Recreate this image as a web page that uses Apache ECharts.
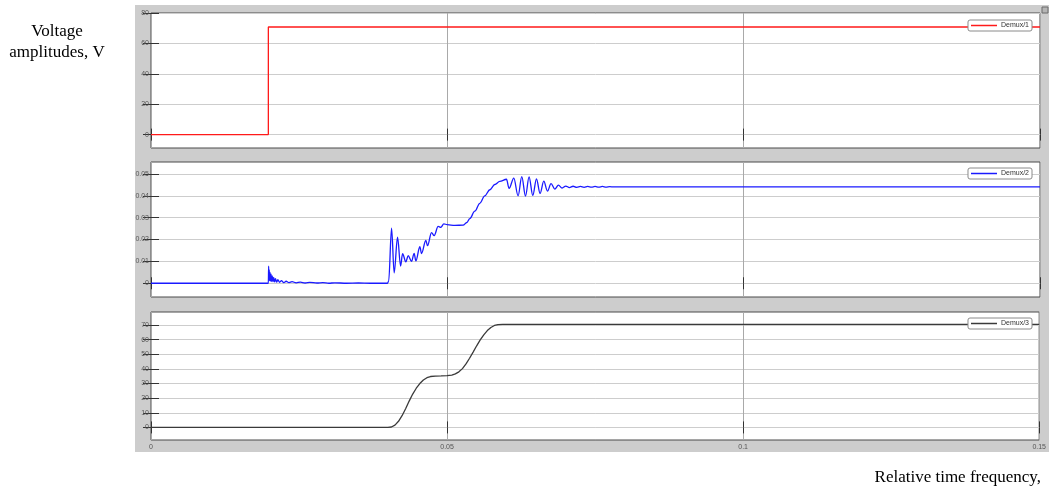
<!DOCTYPE html>
<html>
<head>
<meta charset="utf-8">
<title>Demux scope</title>
<script src="https://cdn.jsdelivr.net/npm/echarts@6/dist/echarts.min.js"></script>
<style>
  html, body { margin: 0; padding: 0; background: #ffffff; }
  #chart { width: 1049px; height: 490px; }
</style>
</head>
<body>
<div id="chart"></div>
<script>
// Time axis ticks (s)
const timeTicks = [0, 0.05, 0.1, 0.15];

// Y tick values per scope panel
const demux1Ticks = [0, 20, 40, 60, 80];
const demux2Ticks = [0, 0.01, 0.02, 0.03, 0.04, 0.05];
const demux3Ticks = [0, 10, 20, 30, 40, 50, 60, 70];

// Panel value ranges
const demux1Range = [-8.8, 80];
const demux2Range = [-0.0063, 0.0555];
const demux3Range = [-8.6, 78.9];

// Demux/1 : step amplitude
const demux1 = [
  [0, 0], [0.0198, 0], [0.0198, 70.8], [0.15, 70.8]
];

// Demux/2 : transient response
const demux2 = [
  [0, 0], [0.0198, 0], [0.01985, 0.0078], [0.0199, 0.0015], [0.01995, 0.0062],
  [0.0200, 0.0012], [0.02008, 0.0050], [0.02016, 0.0010], [0.02025, 0.0042],
  [0.02035, 0.0008], [0.02045, 0.0034], [0.02058, 0.0007], [0.0207, 0.0027],
  [0.02085, 0.0006], [0.0210, 0.0021], [0.0212, 0.0005], [0.0214, 0.0016],
  [0.0217, 0.0004], [0.0220, 0.0012], [0.0224, 0.0003], [0.0228, 0.0009],
  [0.0233, 0.0003], [0.0238, 0.0007], [0.0245, 0.0002], [0.0252, 0.0005],
  [0.0260, 0.0001], [0.0268, 0.0004], [0.0280, 0.0001], [0.0290, 0.0003],
  [0.0300, 0.0000], [0.0310, 0.0002], [0.0330, 0.0000], [0.0350, 0.0001],
  [0.0370, 0.0000], [0.0399, 0.0000],
  [0.0401, 0.0010], [0.04059, 0.0252], [0.04103, 0.0047], [0.0416, 0.0211],
  [0.04211, 0.0079], [0.04245, 0.0135], [0.0430, 0.0098], [0.04339, 0.0126],
  [0.04396, 0.0100], [0.0444, 0.0137], [0.04469, 0.0102], [0.04536, 0.0167],
  [0.04565, 0.0136], [0.04637, 0.0196], [0.04666, 0.0172], [0.04733, 0.0232],
  [0.04778, 0.0218], [0.04845, 0.0260], [0.0489, 0.0256], [0.04941, 0.0272],
  [0.04997, 0.0268], [0.05126, 0.0265], [0.05266, 0.0266], [0.05329, 0.0278],
  [0.05379, 0.0296], [0.05464, 0.0330], [0.05548, 0.0366], [0.05632, 0.0400],
  [0.05717, 0.0428], [0.05801, 0.0452], [0.05885, 0.0466], [0.05998, 0.0476],
  [0.06042, 0.0434], [0.06121, 0.0481], [0.06194, 0.0400], [0.06256, 0.0488],
  [0.06319, 0.0399], [0.06379, 0.0487], [0.06442, 0.0402], [0.06504, 0.0478],
  [0.06565, 0.0411], [0.06627, 0.0467], [0.0669, 0.0422], [0.0675, 0.0456],
  [0.06813, 0.0431], [0.06875, 0.0449], [0.06936, 0.0436], [0.06998, 0.0445],
  [0.0706, 0.0438], [0.07122, 0.0444], [0.07184, 0.0439], [0.07246, 0.0443],
  [0.07307, 0.0439], [0.07369, 0.0443], [0.07432, 0.0440], [0.07492, 0.0443],
  [0.07555, 0.0440], [0.07617, 0.0443], [0.07678, 0.0440], [0.0774, 0.0442],
  [0.07808, 0.0441], [0.15, 0.0441]
];

// Demux/3 : output amplitude
const demux3 = [
  [0, 0], [0.0400, 0], [0.0406, 0.3], [0.0412, 1.6], [0.0418, 4.2], [0.0424, 8],
  [0.0430, 12.8], [0.0436, 18], [0.0442, 22.8], [0.0448, 26.8], [0.0454, 30],
  [0.0460, 32.4], [0.0466, 34], [0.0472, 34.8], [0.0480, 35.1], [0.0490, 35.2],
  [0.0500, 35.4], [0.0508, 35.8], [0.0514, 36.6], [0.0520, 38], [0.0526, 40.2],
  [0.0532, 43.4], [0.0538, 47.3], [0.0544, 51.5], [0.0550, 55.8], [0.0556, 59.8],
  [0.0562, 63.3], [0.0568, 66.2], [0.0574, 68.3], [0.0580, 69.7], [0.0586, 70.3],
  [0.0594, 70.5], [0.15, 70.5]
];

const panelNames = ['Demux/1', 'Demux/2', 'Demux/3'];
const panelColors = ['#ff1a1a', '#1a1aff', '#3a3a3a'];
const panelData = [demux1, demux2, demux3];
const panelTicks = [demux1Ticks, demux2Ticks, demux3Ticks];
const panelRanges = [demux1Range, demux2Range, demux3Range];
const panelSplits = [5, 6, 9];
const panelSmooth = [false, 0.35, false];

const gridBoxes = [
  { left: 151, top: 13, width: 889, height: 135 },
  { left: 151, top: 162, width: 889, height: 135 },
  { left: 151, top: 312, width: 889, height: 128 }
];
const legendTops = [20, 168, 318];

const labelFont = 'Liberation Sans, Arial, sans-serif';
const titleFont = '17px "Liberation Serif", "Times New Roman", serif';

const grid = [], xAxis = [], yAxis = [], series = [], legend = [];

gridBoxes.forEach(function (box, i) {
  grid.push(Object.assign({
    show: true, backgroundColor: '#ffffff', borderColor: '#4a4a4a', borderWidth: 1
  }, box));

  // bottom time axis with grid lines
  xAxis.push({
    type: 'value', gridIndex: i, min: timeTicks[0], max: timeTicks[timeTicks.length - 1],
    interval: 0.05, position: 'bottom',
    axisLine: { show: false },
    axisTick: { show: true, inside: true, length: 6, lineStyle: { color: '#333', width: 1 } },
    axisLabel: {
      show: i === 2, fontSize: 7, color: '#555', fontFamily: labelFont, margin: 4,
      formatter: function (v) { return String(+v.toFixed(2)); }
    },
    splitLine: { show: true, lineStyle: { color: '#a9a9a9', width: 1 } }
  });
  // top time axis: ticks only
  xAxis.push({
    type: 'value', gridIndex: i, min: timeTicks[0], max: timeTicks[timeTicks.length - 1],
    interval: 0.05, position: 'top',
    axisLine: { show: false },
    axisTick: { show: true, inside: true, length: 6, lineStyle: { color: '#333', width: 1 } },
    axisLabel: { show: false },
    splitLine: { show: false }
  });

  const ticks = panelTicks[i];
  const rng = panelRanges[i];
  yAxis.push({
    type: 'value', gridIndex: i, min: rng[0], max: rng[1], splitNumber: panelSplits[i],
    position: 'left',
    axisLine: { show: false },
    axisTick: { show: true, inside: true, length: 8, customValues: ticks,
                lineStyle: { color: '#333', width: 1 } },
    axisLabel: { show: true, fontSize: 7, color: '#555', fontFamily: labelFont, margin: 2,
                 customValues: ticks,
                 formatter: function (v) { return String(+(+v).toFixed(3)); } },
    splitLine: { show: true, lineStyle: { color: '#cdcdcd', width: 1 } }
  });
  yAxis.push({
    type: 'value', gridIndex: i, min: rng[0], max: rng[1], splitNumber: panelSplits[i],
    position: 'right',
    axisLine: { show: false },
    axisTick: { show: true, inside: true, length: 8, customValues: ticks,
                lineStyle: { color: '#333', width: 1 } },
    axisLabel: { show: false },
    splitLine: { show: false }
  });

  series.push({
    name: panelNames[i], type: 'line', xAxisIndex: i * 2, yAxisIndex: i * 2,
    data: panelData[i], showSymbol: false, symbol: 'none',
    smooth: panelSmooth[i], smoothMonotone: 'x',
    lineStyle: { color: panelColors[i], width: 1.3 },
    itemStyle: { color: panelColors[i] },
    z: 3
  });

  legend.push({
    data: [panelNames[i]], right: 17, top: legendTops[i], orient: 'horizontal',
    backgroundColor: '#ffffff', borderColor: '#8a8a8a', borderWidth: 1, borderRadius: 2,
    padding: [1, 3, 1, 3], itemWidth: 26, itemHeight: 1.5, itemGap: 4, icon: 'rect',
    selectedMode: false,
    textStyle: { fontSize: 7, color: '#333', fontFamily: labelFont, lineHeight: 9, padding: [0, 0, 0, -1] },
    z: 10
  });
});

const chart = echarts.init(document.getElementById('chart'), null, { renderer: 'canvas' });
chart.setOption({
  animation: false,
  backgroundColor: '#ffffff',
  grid: grid,
  xAxis: xAxis,
  yAxis: yAxis,
  legend: legend,
  series: series,
  graphic: [
    { type: 'rect', z: -100, silent: true,
      shape: { x: 135, y: 5, width: 914, height: 447 },
      style: { fill: '#cdcdcd' } },
    { type: 'rect', z: 5, silent: true,
      shape: { x: 1042, y: 7, width: 6, height: 6 },
      style: { fill: '#b5b5b5', stroke: '#6a6a6a', lineWidth: 1 } },
    { type: 'text', z: 5, silent: true,
      style: { text: 'Voltage', x: 57, y: 32, align: 'center', verticalAlign: 'middle',
               fill: '#000', font: titleFont } },
    { type: 'text', z: 5, silent: true,
      style: { text: 'amplitudes, V', x: 57, y: 53, align: 'center', verticalAlign: 'middle',
               fill: '#000', font: titleFont } },
    { type: 'text', z: 5, silent: true,
      style: { text: 'Relative time frequency,', x: 1041, y: 478, align: 'right', verticalAlign: 'middle',
               fill: '#000', font: titleFont } }
  ]
});
</script>
</body>
</html>
